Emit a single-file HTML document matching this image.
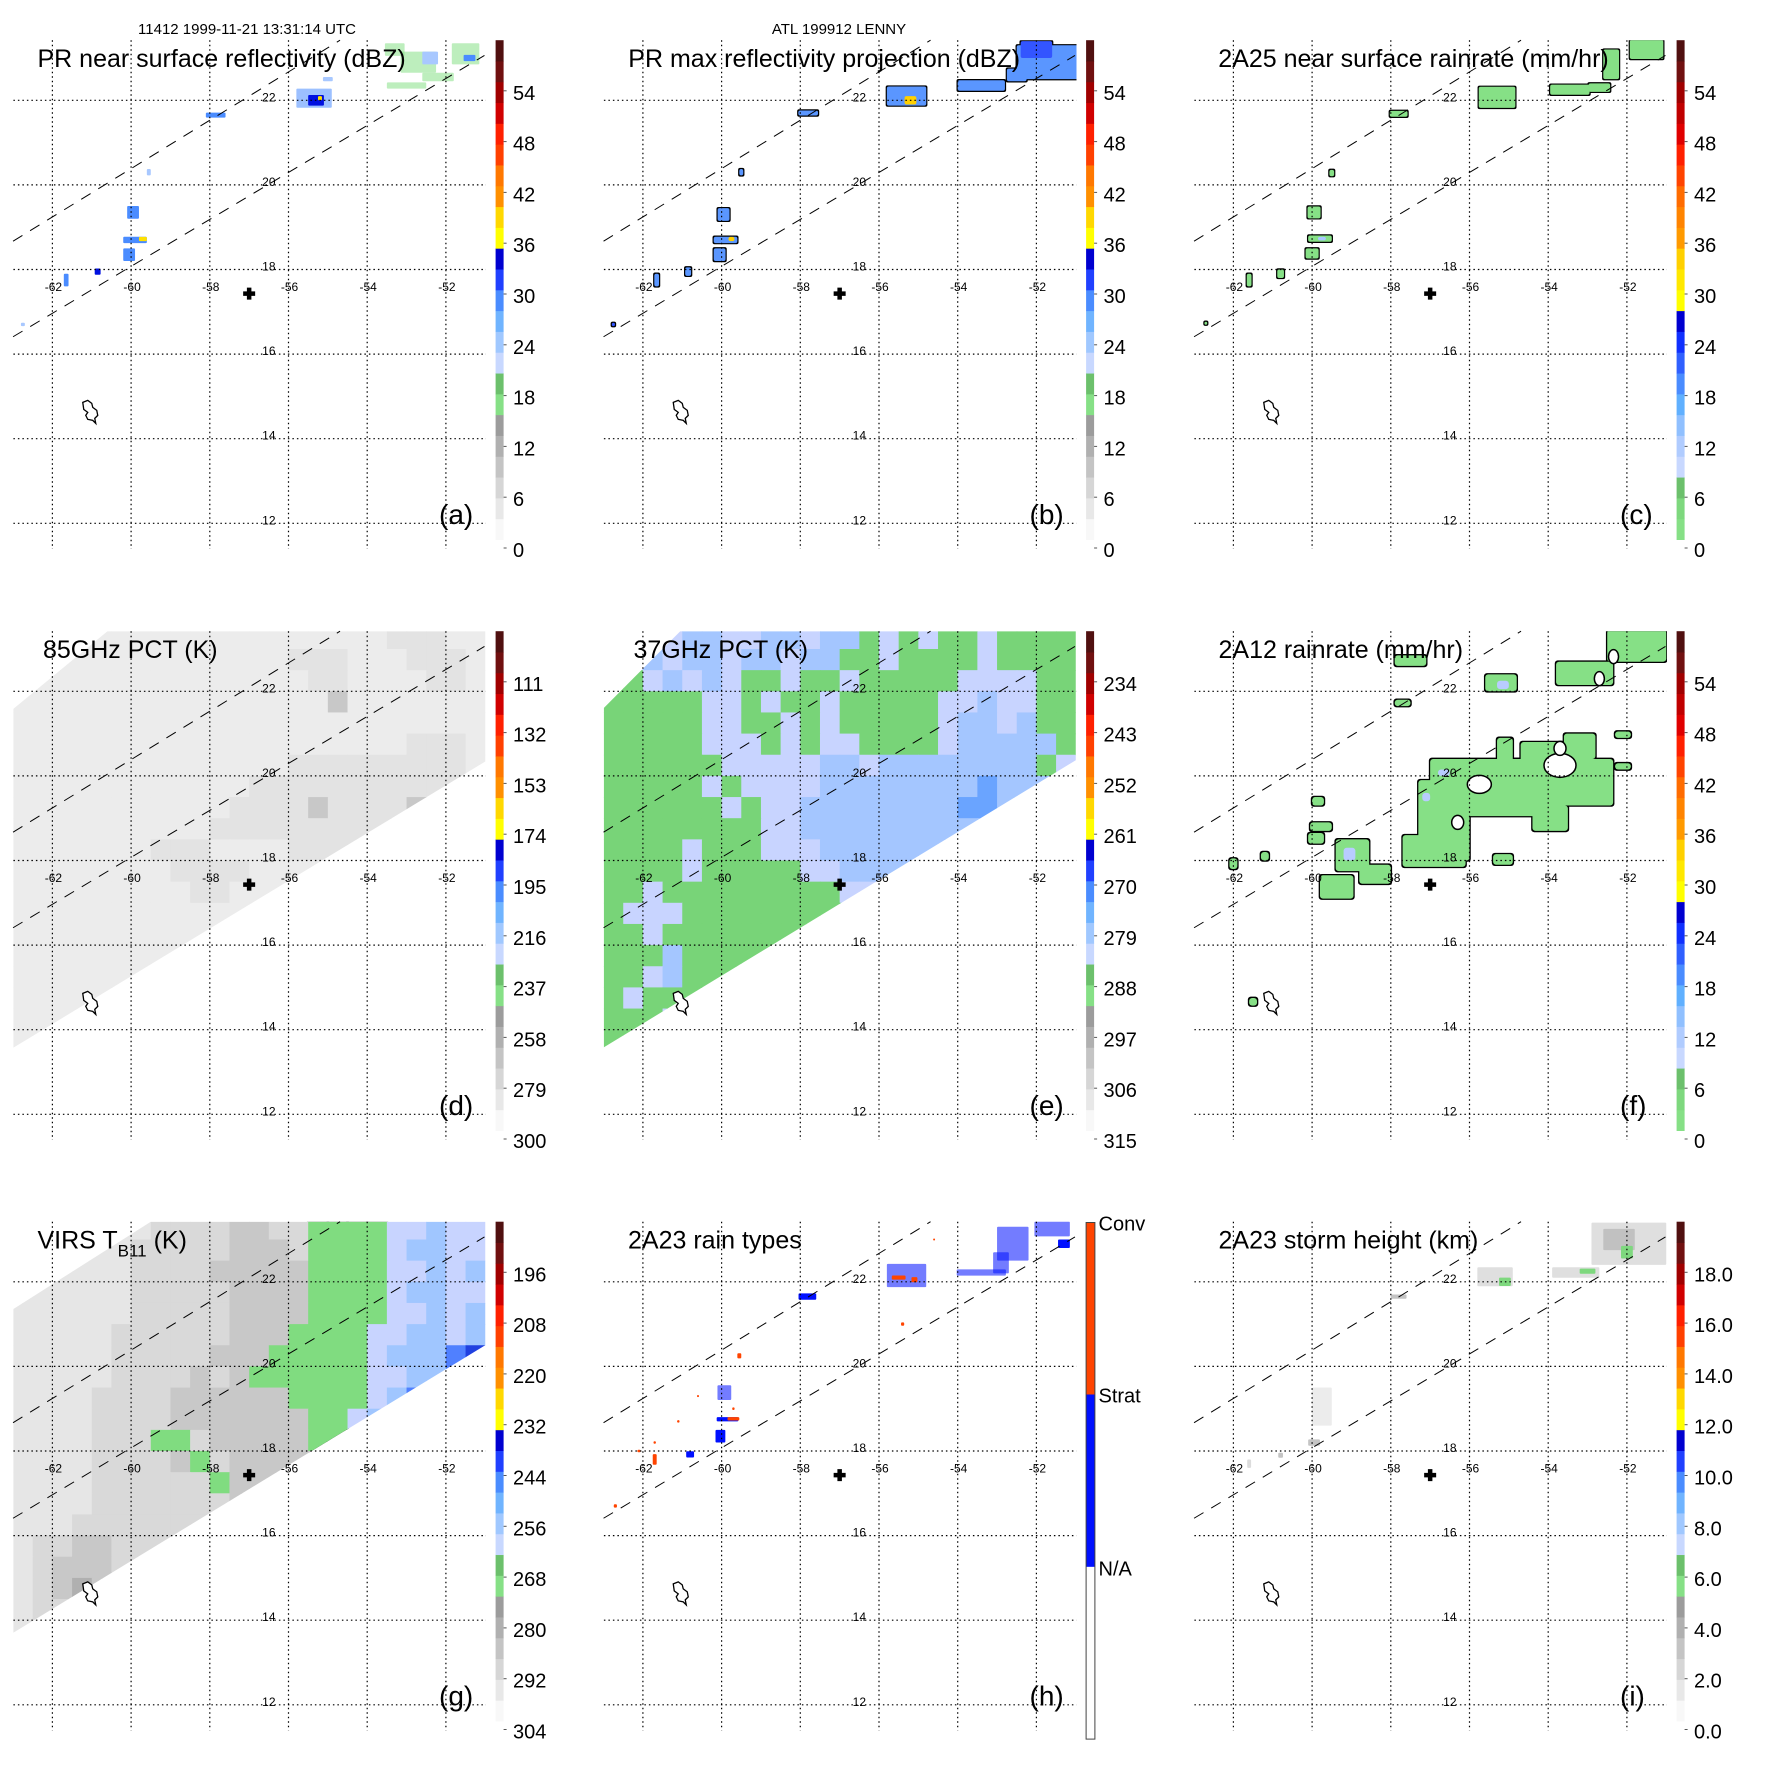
<!DOCTYPE html>
<html><head><meta charset="utf-8">
<style>html,body{margin:0;padding:0;background:#fff}svg{display:block}text{font-family:"Liberation Sans",Arial,sans-serif;fill:#000}</style>
</head><body>
<svg id="fig" width="1771" height="1771" viewBox="0 0 1771 1771" xmlns="http://www.w3.org/2000/svg"></svg>
<script>
const lonTicks=[-62,-60,-58,-56,-54,-52];
const latTicks=[22,20,18,16,14,12];
const centerLon=-57.0, centerLat=17.43;
const islandLon=-61.0, islandLat=14.67;
const prSwathUpper=[[-63,18.67],[-54.69,23.42]];
const prSwathLower=[[-63,16.41],[-51.02,23.06]];
const tmiSwathD=[[-63,21.58],[-60.6,23.42],[-51,23.42],[-51,20.34],[-63,13.57]];
const tmiSwathE=[[-63,21.6],[-61.05,23.42],[-51,23.42],[-51,20.37],[-63,13.58]];
const virsSwathG=[[-63,21.35],[-59.5,23.42],[-51,23.42],[-51,20.5],[-63,13.7]];
const gridLon0=-63, gridLat0=23.5, cellDeg=0.5;
const gridD=[
"111111111111111111122211","111111111111112221112221","111111111111111221111221",
"111111111111111131111111","111111111111111111111111","111111111111111111112221",
"111111111111112222222221","111111111111222222222222","111111111112222322223222",
"111111111122222222222222","111111122211112222222222","111111112222111111111111",
"111111111221111111111111","111111111111111111111111","111111111111111111111111",
"111111111111111111111111","111111111111111111111111","111111111111111111111111",
"111111111111111111111111","111111111111111111111111","111111111111111111111111"];
const gridE=[
"llblbbllbblbbglglgglgggg","llblbblbblbbgglgggglgggg","gglblblgglgglgggggllllgg",
"gggggllglgglgggggllbllgg","gggggllgglglggggglbblbgg","ggggglllglgllgggglbbbbbg",
"gggggglllllbblbbbbbbbbgl","ggggglgllllbbbbbbbbBbbbb","gggggglgllbbbbbbbbBBbbbb",
"ggggggggllbbbbbbbbbbbbbb","gggglggglllbbbbbbbbbbbbb","gggglgggggllbbbbbbbbbbbb",
"gglgggggggggllbbbbbbbbbb","glllgggggggggggggggggggg","gglgggggggggglgggggggggg",
"gggbgggggggggggggggggggg","gglbgggggggggggggggggggg","glggglgggggggggggggggggg",
"ggglgggggggggggggggggggg","gggggggggggggggggggggggg","gggggggggggggggggggggggg"];
const gridG=[
"wwwwwwwaaaammaaggggllbll","wwwwwwaaaaammmagggglbbll","wwwwwwaaaammmmmggggllblb",
"wwwwwwaaaaammmmgggglbbll","wwwwwwaaaaammmmggggllblb","wwwwwaaaaaammmggggllbblb",
"wwwwwaaaaammmggggglbbbBD","wwwwwaaaamamggggggllbbBb","wwwwaaaammmmmmgggglbBbbb",
"wwwwaaaammmmmmmgglbbbbbb","wwwwaaaggammmmmgggbbbbbb","wwwwaaaamgammmmmmmmmmmmm",
"wwwwaaaaaagmmmmmmmmmmmmm","wwwwaaaaaaammmmmmmmmmmmm","wwwaaaaaaaaammmmmmmmmmmm",
"waammaaaaaaaaaaaaaaaaaaa","wammmaaaaaaaaaaaaaaaaaaa","wamdmaaaaaaaaaaaaaaaaaaa",
"waaaaaaaaaaaaaaaaaaaaaaa","waaaaaaaaaaaaaaaaaaaaaaa","wwaaaaaaaaaaaaaaaaaaaaaa"];
const blobsA=[[-55.35,22.05,0.9,0.45,2],[-55.3,22.0,0.4,0.25,3],[-55.2,22.05,0.1,0.1,4],[-55.0,22.5,0.25,0.1,1],
[-53.0,22.35,1.0,0.15,0],[-52.2,22.55,0.8,0.2,0],[-52.7,22.9,0.9,0.5,0],[-52.4,23.0,0.4,0.3,1],[-51.5,23.1,0.7,0.5,0],
[-51.4,23.0,0.3,0.15,2],[-53.3,23.2,0.5,0.3,0],[-57.85,21.65,0.5,0.12,2],[-59.95,19.35,0.3,0.3,2],[-59.9,18.7,0.6,0.15,2],
[-59.7,18.72,0.2,0.1,4],[-60.05,18.35,0.3,0.3,2],[-60.85,17.95,0.15,0.15,3],[-61.65,17.75,0.12,0.3,2],[-59.55,20.3,0.1,0.15,1],[-62.75,16.7,0.1,0.08,1]];
const blobsB=[[-55.3,22.1,1.0,0.45,1],[-55.2,22.0,0.3,0.2,3],[-53.4,22.35,1.2,0.25,1],[-51.7,22.9,1.6,0.8,1],[-52.0,23.2,0.8,0.4,2],
[-52.5,22.6,0.5,0.3,1],[-57.8,21.7,0.5,0.12,1],[-59.5,20.3,0.1,0.15,1],[-59.95,19.3,0.3,0.3,1],[-59.9,18.7,0.6,0.15,1],
[-59.75,18.72,0.15,0.1,3],[-60.05,18.35,0.3,0.3,1],[-60.85,17.95,0.15,0.2,1],[-61.65,17.75,0.12,0.3,1],[-62.75,16.7,0.08,0.08,2]];
const blobsC=[[-55.3,22.07,0.93,0.5,0],[-53.45,22.25,1.0,0.24,0],[-52.7,22.3,0.55,0.2,0],[-52.4,22.85,0.4,0.7,0],[-51.5,23.2,0.85,0.45,0],
[-57.8,21.68,0.45,0.14,0],[-59.5,20.28,0.12,0.15,0],[-59.95,19.35,0.33,0.28,0],[-59.8,18.73,0.6,0.15,0],[-59.75,18.73,0.2,0.08,1],
[-60.0,18.38,0.33,0.24,0],[-60.8,17.9,0.17,0.2,0],[-61.6,17.75,0.12,0.3,0],[-62.7,16.73,0.07,0.07,0]];
const blobsF=[[-57.3,18.0,-56.0,19.9,0],[-57.0,19.05,-53.8,20.4,0],[-55.0,19.3,-52.35,20.4,0],[-54.7,20.1,-53.0,20.8,0],
[-55.3,20.2,-54.9,20.9,0],[-53.6,20.4,-52.8,21.0,0],[-54.4,18.7,-53.5,19.3,0],[-57.7,17.85,-56.1,18.6,0],
[-59.4,17.75,-58.55,18.5,0],[-58.8,17.45,-58.0,17.9,0],[-59.8,17.1,-58.95,17.65,0],[-60.1,18.4,-59.7,18.65,0],
[-60.05,18.7,-59.5,18.9,0],[-60.0,19.3,-59.7,19.5,0],[-57.9,21.65,-57.5,21.8,0],[-57.9,22.6,-57.1,22.85,0],
[-55.6,22.0,-54.8,22.4,0],[-53.8,22.15,-52.35,22.7,0],[-52.5,22.7,-51.0,23.45,0],[-52.3,20.9,-51.9,21.05,0],
[-52.3,20.15,-51.9,20.3,0],[-61.3,18.0,-61.1,18.2,0],[-62.1,17.8,-61.9,18.05,0],[-55.4,17.9,-54.9,18.15,0],
[-61.6,14.57,-61.4,14.75,0],[-59.2,18.0,-58.9,18.3,1],[-55.3,22.05,-55.0,22.25,1],[-56.8,20.0,-56.5,20.15,1],[-57.2,19.4,-57.0,19.6,1]];
const holesF=[[-55.75,19.8,12,9],[-53.7,20.25,16,12],[-52.34,22.82,5,7],[-52.7,22.3,5,7],[-53.7,20.65,6,7],[-56.3,18.9,6,7]];
const blobsH=[[-55.3,22.15,1.0,0.55,0],[-55.5,22.1,0.35,0.1,1],[-55.1,22.05,0.15,0.12,1],[-53.4,22.22,1.25,0.15,0],
[-52.6,22.9,0.8,0.8,0],[-51.6,23.25,0.9,0.35,0],[-52.9,22.45,0.4,0.5,0],[-51.3,22.9,0.3,0.2,0],[-57.82,21.65,0.45,0.15,0],
[-59.55,20.25,0.1,0.12,1],[-59.93,19.38,0.35,0.35,0],[-59.85,18.75,0.55,0.1,0],[-59.7,18.76,0.3,0.08,1],[-60.03,18.35,0.25,0.3,0],
[-60.8,17.92,0.2,0.15,0],[-61.7,17.8,0.1,0.25,1],[-61.7,18.2,0.06,0.06,1],[-61.1,18.7,0.06,0.06,1],[-60.6,19.3,0.05,0.05,1],
[-62.1,18.0,0.08,0.06,1],[-62.7,16.7,0.08,0.08,1],[-59.7,19.0,0.06,0.06,1],[-55.4,21.0,0.08,0.08,1],[-54.6,23.0,0.05,0.05,1]];
const blobsI=[[-51.95,22.9,1.9,1.0,0],[-52.2,23.0,0.8,0.5,1],[-52.0,22.7,0.3,0.3,2],[-53.3,22.22,1.2,0.25,0],[-53.0,22.25,0.4,0.12,2],
[-55.35,22.12,0.9,0.45,0],[-55.1,22.0,0.3,0.2,2],[-57.8,21.65,0.4,0.1,0],[-59.75,19.05,0.5,0.9,3],[-59.95,18.2,0.3,0.15,0],
[-60.8,17.9,0.12,0.12,0],[-61.6,17.7,0.1,0.2,3]];
const labelsDbz=['0','6','12','18','24','30','36','42','48','54'];
const labelsD=['300','279','258','237','216','195','174','153','132','111'];
const labelsE=['315','306','297','288','279','270','261','252','243','234'];
const labelsG=['304','292','280','268','256','244','232','220','208','196'];
const labelsRain=['0','6','12','18','24','30','36','42','48','54'];
const labelsI=['0.0','2.0','4.0','6.0','8.0','10.0','12.0','14.0','16.0','18.0'];
const labelsH=['Conv','Strat','N/A'];

const barStd=['#f8f8f8','#e8e8e8','#d6d6d6','#c4c4c4','#b0b0b0','#9c9c9c','#86e086','#6cc06c','#c8d8ff','#a0c8ff','#70b4ff','#4a8cff','#2040ff','#0000d0','#ffff00','#ffd800','#ff9000','#ff7800','#ff4000','#ff2000','#d00000','#a00000','#701010','#501010'];
const barRain=['#86e086','#7ed87e','#6cc06c','#c8d8ff','#b0ccff','#90c0ff','#60b0ff','#4a8cff','#3060ff','#1030ff','#0000d0','#ffff00','#ffe800','#ffd000','#ff9a00','#ff8400','#ff6c00','#ff4400','#ff2000','#e00000','#c00000','#a00000','#701010','#501010'];
const colX=[0,590.5,1181], rowY=[0,591,1181.5];
const NS='http://www.w3.org/2000/svg';
const svg=document.getElementById('fig');
function X(c,lon){return colX[c]+52.4+(lon+62)*39.35;}
function Y(r,lat){return rowY[r]+100.3+(22-lat)*42.3;}
function mk(tag,attrs,parent){const e=document.createElementNS(NS,tag);for(const k in attrs)e.setAttribute(k,attrs[k]);parent.appendChild(e);return e;}

function drawGrid(g,grid,pal,c,r,outline){
  const w=cellDeg*39.35, h=cellDeg*42.3;
  for(let pass=0;pass<2;pass++){
    for(let i=0;i<grid.length;i++){for(let j=0;j<grid[i].length;j++){
      const ch=grid[i][j]; if(!pal[ch]) continue;
      const x=X(c,gridLon0+cellDeg*j), y=Y(r,gridLat0-cellDeg*i);
      if(pass===0){ if(outline.indexOf(ch)<0) continue;
        const o=mk('rect',{x:x-1.3,y:y-1.3,width:w+2.6,height:h+2.6,fill:'#000'},g);
        
        
      } else {
        const e=mk('rect',{x:x,y:y,width:w+0.6,height:h+0.6,fill:pal[ch]},g);
        
        
      }
    }}
  }
}
function drawBlobs(g,blobs,pal,c,r,outlined){
  for(let pass=outlined?0:1;pass<2;pass++){
    for(const b of blobs){
      const x=X(c,b[0]-b[2]/2), y=Y(r,b[1]+b[3]/2), w=Math.max(2,b[2]*39.35), h=Math.max(2,b[3]*42.3);
      const sparse=(!outlined && b[2]*b[3]>0.12);
      if(pass===0){ const o=mk('rect',{x:x-1.2,y:y-1.2,width:w+2.4,height:h+2.4,fill:'#000',rx:2},g);
        
        
      } else { const e=mk('rect',{x:x,y:y,width:w,height:h,fill:pal[b[4]],rx:outlined?2:1,'fill-opacity':sparse?0.55:1},g);
        
         }
    }
  }
}
function swathClip(id,poly,c,r){
  const cp=mk('clipPath',{id:id},svg);
  mk('polygon',{points:poly.map(q=>X(c,q[0])+','+Y(r,q[1])).join(' ')},cp);
  return 'url(#'+id+')';
}

const panels=[
 {c:0,r:0,key:'a',name:'pr-near-surface-reflectivity',title:'PR near surface reflectivity (dBZ)',tx:37.5,bar:barStd,labels:labelsDbz},
 {c:1,r:0,key:'b',name:'pr-max-reflectivity',title:'PR max reflectivity projection (dBZ)',tx:37.8,bar:barStd,labels:labelsDbz},
 {c:2,r:0,key:'c',name:'2a25-rainrate',title:'2A25 near surface rainrate (mm/hr)',tx:37.3,bar:barRain,labels:labelsRain},
 {c:0,r:1,key:'d',name:'85ghz-pct',title:'85GHz PCT (K)',tx:43,bar:barStd,labels:labelsD},
 {c:1,r:1,key:'e',name:'37ghz-pct',title:'37GHz PCT (K)',tx:43,bar:barStd,labels:labelsE},
 {c:2,r:1,key:'f',name:'2a12-rainrate',title:'2A12 rainrate (mm/hr)',tx:37.5,bar:barRain,labels:labelsRain},
 {c:0,r:2,key:'g',name:'virs-tb11',title:'VIRS T',tx:37.5,bar:barStd,labels:labelsG},
 {c:1,r:2,key:'h',name:'2a23-rain-types',title:'2A23 rain types',tx:37.5,bar:null,labels:labelsH},
 {c:2,r:2,key:'i',name:'2a23-storm-height',title:'2A23 storm height (km)',tx:37.5,bar:barStd,labels:labelsI}
];

for(const p of panels){
  const c=p.c, r=p.r, ox=colX[c], oy=rowY[r];
  const g=mk('g',{},svg);
  
  
  const cpid='plot'+p.key;
  const cp=mk('clipPath',{id:cpid},svg);
  mk('rect',{x:ox+13.4,y:oy+40.2,width:472.6,height:509},cp);
  const dg=mk('g',{'clip-path':'url(#'+cpid+')'},g);
  
  
  if(p.key==='a') drawBlobs(dg,blobsA,['#86e086','#a8c8ff','#4a8cff','#0010e0','#ffe000'],c,r,false);
  if(p.key==='b') drawBlobs(dg,blobsB,['#86e086','#5a96ff','#3355ff','#ffd000'],c,r,true);
  if(p.key==='c') drawBlobs(dg,blobsC,['#86e086','#a8c8ff'],c,r,true);
  if(p.key==='h') drawBlobs(dg,blobsH,['#0010ff','#ff4400'],c,r,false);
  if(p.key==='i') drawBlobs(dg,blobsI,['#c4c4c4','#a8a8a8','#7ed87e','#dcdcdc'],c,r,false);
  if(p.key==='d'){const sg=mk('g',{'clip-path':swathClip('swd',tmiSwathD,c,r)},dg);
     
    drawGrid(sg,gridD,{'1':'#ececec','2':'#e3e3e3','3':'#c8c8c8'},c,r,'');}
  if(p.key==='e'){const sg=mk('g',{'clip-path':swathClip('swe',tmiSwathE,c,r)},dg);
     
    drawGrid(sg,gridE,{'g':'#78d478','l':'#c8d4ff','b':'#a4c6ff','B':'#6aa4ff'},c,r,'');}
  if(p.key==='g'){const sg=mk('g',{'clip-path':swathClip('swg',virsSwathG,c,r)},dg);
     
    drawGrid(sg,gridG,{'w':'#e6e6e6','a':'#d9d9d9','m':'#c8c8c8','d':'#b0b0b0','g':'#80dc80','l':'#c8d4ff','b':'#a0c6ff','B':'#5080ff','D':'#2040e0'},c,r,'g');}
  if(p.key==='f'){
    for(let pass=0;pass<2;pass++){for(const b of blobsF){
      const x=X(c,b[0]), y=Y(r,b[3]), w=(b[2]-b[0])*39.35, h=(b[3]-b[1])*42.3;
      if(pass===0){ if(b[4]!==0) continue; const o=mk('rect',{x:x-1.3,y:y-1.3,width:w+2.6,height:h+2.6,fill:'#000',rx:3},dg);
         }
      else { const e=mk('rect',{x:x,y:y,width:w,height:h,fill:b[4]?'#b8ccff':'#86e086',rx:3},dg);
         }
    }}
    for(const hl of holesF){const e=mk('ellipse',{cx:X(c,hl[0]),cy:Y(r,hl[1]),rx:hl[2],ry:hl[3],fill:'#fff',stroke:'#000','stroke-width':1.5},dg);
       }
  }
  for(const lon of lonTicks){const l=mk('line',{x1:X(c,lon),x2:X(c,lon),y1:oy+40.2,y2:oy+549,stroke:'#000','stroke-width':1.2,'stroke-dasharray':'1.5,3'},g);
     
    const tx=mk('text',{x:X(c,lon)+1,y:oy+291,'font-size':12,'text-anchor':'middle'},g); tx.textContent=String(lon);
     }
  for(const lat of latTicks){const l=mk('line',{x1:ox+13.4,x2:ox+486,y1:Y(r,lat),y2:Y(r,lat),stroke:'#000','stroke-width':1.2,'stroke-dasharray':'1.5,3'},g);
     
    const tx=mk('text',{x:X(c,-56.5),y:Y(r,lat)+1,'font-size':12,'text-anchor':'middle'},g); tx.textContent=String(lat);
     }
  for(const s of [prSwathUpper,prSwathLower]){const l=mk('line',{x1:X(c,s[0][0]),y1:Y(r,s[0][1]),x2:X(c,s[1][0]),y2:Y(r,s[1][1]),stroke:'#000','stroke-width':1,'stroke-dasharray':'11,9'},g);
     }
  const ix=X(c,islandLon), iy=Y(r,islandLat);
  const isl=mk('path',{d:`M${ix-9},${iy-8} l5,-2 l4,3 l1,4 l4,3 l1,5 l-3,3 l1,5 l-3,-3 l-5,-1 l-2,-4 l2,-3 l-4,-3 z`,fill:'#fff',stroke:'#000','stroke-width':1.3},g);
   
  const px=X(c,centerLon), py=Y(r,centerLat);
  const pl=mk('path',{d:`M${px-6},${py} h12 M${px},${py-6} v12`,stroke:'#000','stroke-width':4.5},g);
   
  // title on top of data
  const t=mk('text',{x:ox+p.tx,y:oy+67,'font-size':25},g);
  
  
  t.textContent=p.title;
  if(p.key==='g'){
    const s=mk('tspan',{'font-size':17,dy:8},t); s.textContent='B11';
    
    
    const s2=mk('tspan',{dy:-8},t); s2.textContent=' (K)';
    
    
  }
  const lt=mk('text',{x:ox+439,y:oy+524,'font-size':28},g); lt.textContent='('+p.key+')';
   
  const cb=mk('g',{},g);
   
  const bx=ox+495.6, bt=oy+40.2, bb=oy+539.6;
  if(p.bar){
    const n=p.bar.length, hh=(bb-bt)/n;
    p.bar.forEach((col,i)=>{const e=mk('rect',{x:bx,y:bb-(i+1)*hh,width:8,height:hh+0.4,fill:col},cb);
       });
    p.labels.forEach((lab,i)=>{const yc=oy+550-i*50.8;
      const tk=mk('line',{x1:bx+8,x2:bx+11,y1:yc-2,y2:yc-2,stroke:'#555','stroke-width':1},cb);
       
      const tx=mk('text',{x:ox+513,y:yc+7,'font-size':20},cb); tx.textContent=lab;
       });
  } else {
    const segs=[[oy+41,oy+213,'#ff4400'],[oy+213,oy+385.4,'#0010ff'],[oy+385.4,oy+557.6,'#ffffff']];
    for(const s of segs){const e=mk('rect',{x:bx,y:s[0],width:8.8,height:s[1]-s[0],fill:s[2]},cb);
       }
    const bd=mk('rect',{x:bx,y:oy+41,width:8.8,height:516.6,fill:'none',stroke:'#444','stroke-width':1},cb);
     
    const ly=[49,221,394];
    p.labels.forEach((lab,i)=>{const tx=mk('text',{x:ox+508,y:oy+ly[i],'font-size':20},cb); tx.textContent=lab;
       });
  }
}
const h1=mk('text',{x:247,y:34,'font-size':15,'text-anchor':'middle'},svg);


h1.textContent='11412 1999-11-21 13:31:14 UTC';
const h2=mk('text',{x:839,y:34,'font-size':15,'text-anchor':'middle'},svg);


h2.textContent='ATL 199912 LENNY';
</script>
</body></html>
